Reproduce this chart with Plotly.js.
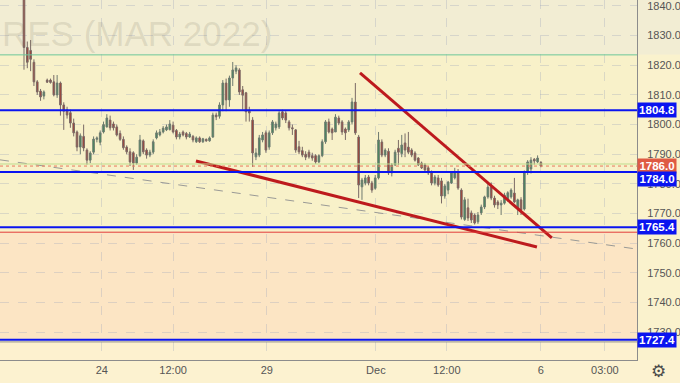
<!DOCTYPE html>
<html>
<head>
<meta charset="utf-8">
<script src="https://cdn.plot.ly/plotly-3.0.1.min.js"></script>
<style>
html,body{margin:0;padding:0;background:#fcf2d0;}
#chart{width:680px;height:383px;}
</style>
</head>
<body>
<div id="chart"></div>
<script>
// ---- data ----
const opens = [1852,1826,1825,1821,1814.4,1811.3,1809.6,1815,1815,1814.4,1810,1814,1806.6,1805,1804,1800.5,1797.5,1792.4,1796,1791.4,1788,1790.7,1795,1794,1797.5,1799.2,1801.5,1800.2,1799.2,1797,
1795,1792.4,1790.8,1790.5,1787,1789.5,1794.5,1791.4,1789.7,1790.7,1795.5,1796.5,1797.5,1798.2,1798.3,1799.8,1798,1795.8,1797.5,1797,
1795.8,1796,1794.2,1795.5,1794.2,1795,1794.5,1795.8,1803.2,1802.8,1806.6,1814,1808.3,1815.7,1818,1818.4,1811.7,1810.7,1804.9,1801.5,
1789.1,1789.7,1794.8,1797.2,1792.4,1797.2,1798.9,1799.2,1804.3,1803.9,1800.9,1798.9,1798.2,1792.5,1791.2,1790,1790.7,1789.5,1789.5,1787.4,
1789.5,1794.2,1800.9,1798.5,1797.5,1802.2,1800.9,1798.5,1798.2,1800.9,1807.6,1795.8,1779,1780.3,1782.3,1780.3,1778.5,1782,1794.1,1789.7,
1791,1783.7,1786.4,1792,1790.2,1793.8,1792.4,1791.4,1790.4,1788.7,1787,1786.4,1785.4,1783.7,1780.3,1782,1781,1775.9,1777.9,1780.3,
1782,1783.7,1777.9,1768,1771.9,1770.2,1769.5,1767.2,1770.2,1772.2,1775.6,1778.9,1775.2,1773.9,1772.9,1773.5,1774.6,1775.6,1776.9,1771.9,
1774.6,1771.5,1784,1785,1788.3,1787.4,1787.2];
const highs = [1854,1828,1828.5,1822,1815,1812,1811.5,1815.5,1815.5,1816.7,1816.7,1814.5,1807.5,1806,1805,1802,1798,1797,1800,1792,1791,1796,1796,1798,1801,1803.5,1803,1801,1800,1798,
1796,1793,1792,1791,1790,1796.5,1795,1792,1791.5,1795,1798,1798.5,1799.5,1800,1801.5,1801,1798.5,1797.5,1798,1797.5,
1797.5,1796.5,1796,1796,1795.5,1795.3,1796,1804,1804,1807.5,1815,1815.5,1816.5,1821.1,1820,1819,1813,1811,1806,1802.5,
1792,1796.5,1797.5,1798,1798,1801.5,1801,1804.5,1805,1804.5,1801.5,1800,1798.5,1794.5,1792.5,1791,1791.5,1790.5,1790,1790,
1795,1801.5,1802,1799,1803.5,1803,1801.5,1799,1801.5,1809,1814,1796.5,1782,1783,1783,1781,1783,1797.5,1795,1792,
1792,1787,1791.5,1794.8,1796.5,1797,1797.5,1792,1791,1789,1787.5,1787,1786,1784.5,1783,1783,1782,1780,1781,1784,
1785.4,1785,1778.5,1775.5,1775,1771,1770,1770.5,1773,1776,1780,1780.5,1776,1774.5,1774.5,1777,1777.5,1778.5,1782,1775,
1775.5,1784.5,1788,1789,1788.7,1789.6,1787.7];
const lows = [1818.5,1819,1818,1813,1810,1808,1808.5,1814,1813.8,1809.5,1809,1803,1798.2,1802,1798.9,1796,1791,1790,1791,1786.5,1787,1790,1794,1793,1797,1799,1798,1798,1796,1794.5,
1791.5,1790,1786,1784.7,1786.5,1789,1790,1788.5,1789,1790,1795,1796,1797,1797.8,1798,1797,1795,1795,1796,1795,
1795.5,1794,1793.8,1793.8,1793.8,1794.2,1794.2,1795.5,1801.5,1802,1804.5,1804.5,1806,1813,1817,1810,1805,1801,1801,1785.7,
1788,1789,1794,1790.5,1791.5,1796.5,1798,1798.5,1801.5,1800.5,1798,1796.5,1790.5,1790,1789,1788,1788.5,1787.8,1786.8,1787,
1789,1793.5,1797,1794.8,1798.5,1799.8,1796.5,1794.8,1797.5,1800,1796.5,1775.2,1774.6,1779.5,1779.5,1777,1778,1781.5,1789,1789,
1783,1782.5,1786,1786.4,1789,1789,1790,1789,1787.5,1786,1785,1784,1783,1779.5,1779.5,1779,1773.4,1775,1776.5,1780,
1781.5,1778,1768,1767.5,1767.5,1766.8,1766.3,1766.5,1769.5,1771.5,1775,1774.5,1772,1771.5,1769.5,1773,1774,1775,1773.5,1769.5,
1769.5,1771,1783,1783.5,1786.5,1787,1785.6];
const closes = [1826,1821,1822,1814.4,1811,1809.3,1811,1814.3,1814.2,1810,1814,1806.6,1804.5,1803.2,1800.5,1797.2,1792.4,1796.2,1792.1,1788,1790.4,1795.1,1795.5,1797.2,1800,1802.2,1798.9,1798.9,1796.5,1795,
1792.2,1790.8,1787.4,1787,1789,1794.8,1790.8,1789.7,1790.7,1794.2,1797.2,1797.5,1798.8,1799.2,1800.2,1797.5,1795.8,1796.8,1796.5,1795.8,
1796.8,1794.8,1795.5,1794.2,1795.2,1794.5,1795.5,1803.2,1802.6,1806.6,1814,1808.3,1815.7,1818.4,1819.1,1811,1809.9,1804.3,1803.9,1790.4,
1790.4,1795.5,1796.5,1791.4,1797.2,1800.9,1800.2,1803.9,1802.2,1801.5,1798.9,1798.6,1791.4,1790.8,1789.7,1789,1789.1,1788.7,1787.4,1789.5,
1794.2,1800.9,1797.5,1797.2,1802.5,1800.5,1797.5,1797.2,1800.9,1807.6,1797.2,1779.6,1781.3,1782,1780.3,1777.9,1782,1794.8,1789.7,1791.4,
1783.7,1786.4,1790.7,1790.7,1793.1,1791.4,1790.7,1789.7,1788,1786.4,1785.4,1784.7,1783.7,1780.3,1782.3,1779.6,1775.9,1779.3,1780.6,1783.7,
1784,1778.6,1768.8,1774.6,1768.5,1767.8,1766.8,1769.5,1772.2,1775.6,1778.9,1775.2,1772.9,1772.9,1773.5,1776.2,1777,1777.9,1773.9,1774.6,
1771.2,1784,1787.4,1788,1787.7,1788.7,1786.0];

// time-axis labels (bar index positions)
const tickPos = [23.5, 45.0, 73.3, 106.2, 127.6, 156.0, 175.3];
const tickLabels = ['24', '12:00', '29', 'Dec', '12:00', '6', '03:00'];

// horizontal price levels
const blueLevels = [1804.8, 1784.0, 1765.4, 1727.4];
const greenLevel = 1823.5;
const lastPrice = 1786.0;
const lightGreenLevel = 1786.7;
const redLevel = 1763.7;
const greyLevel = 1726.7;

// trend lines (bar index, price)
const lowerTrendX = [51.9, 154.8], lowerTrendY = [1787.7, 1758.7];
const upperTrendX = [101.4, 159.3], upperTrendY = [1817.4, 1761.8];
const dashTrendX = [-7.24, 185.0], dashTrendY = [1788.1, 1758.0];

const yTicks = [1730, 1740, 1750, 1760, 1770, 1780, 1790, 1800, 1810, 1820, 1830, 1840];
const yTickLabels = ['1730.0','1740.0','1750.0','1760.0','1770.0','1780.0','1790.0','1800.0','1810.0','1820.0','1830.0','1840.0'];

// ---- chart ----
const idx = closes.map((_, i) => i);
const yMin = 1720.6, yMax = 1842.0;
const yFrac = v => (v - yMin) / (yMax - yMin);

const traces = [
  {type:'scatter', mode:'lines', x:dashTrendX, y:dashTrendY, line:{color:'#9a9a96', width:1, dash:'dash'}, hoverinfo:'skip', showlegend:false},
  {type:'candlestick', x:idx, open:opens, high:highs, low:lows, close:closes,
   increasing:{fillcolor:'#3f8a5a', line:{color:'#6f7a70', width:1}},
   decreasing:{fillcolor:'#a83a2e', line:{color:'#7a6a66', width:1}},
   whiskerwidth:0, hoverinfo:'skip', showlegend:false},
  {type:'scatter', mode:'lines', x:lowerTrendX, y:lowerTrendY, line:{color:'#bd1a1d', width:3}, hoverinfo:'skip', showlegend:false},
  {type:'scatter', mode:'lines', x:upperTrendX, y:upperTrendY, line:{color:'#bd1a1d', width:3}, hoverinfo:'skip', showlegend:false}
];

function hline(y, color, width, dash) {
  return {type:'line', xref:'paper', x0:0, x1:1, yref:'y', y0:y, y1:y, line:{color:color, width:width, dash:dash||'solid'}, layer:'above'};
}
function band(y0, y1, color) {
  return {type:'rect', xref:'paper', x0:0, x1:1, yref:'y', y0:y0, y1:y1, fillcolor:color, line:{width:0}, layer:'below'};
}
function axisBand(y0, y1, color) {
  return {type:'rect', xref:'paper', x0:1, x1:680/637, yref:'paper', y0:yFrac(y0), y1:yFrac(y1), fillcolor:color, line:{width:0}, layer:'below'};
}

const shapes = [
  band(greenLevel, yMax, '#f2edd3'),
  band(blueLevels[2], greenLevel, '#f8f1c9'),
  band(redLevel, blueLevels[2], '#f8f1c9'),
  band(blueLevels[3], redLevel, '#fce5c4'),
  band(yMin, blueLevels[3], '#fdf1cf'),
  axisBand(greenLevel, yMax, '#f2edd3'),
  axisBand(yMin, greenLevel, '#faf2cd'),
  hline(greenLevel, '#6cc79a', 1),
  hline(lightGreenLevel, '#bfdc8f', 1),
  hline(lastPrice, '#e8785c', 1, 'dot'),
  hline(redLevel, '#e23b3b', 1),
  hline(greyLevel, '#8e8e8e', 1),
  hline(blueLevels[0], '#0a14f0', 2),
  hline(blueLevels[1], '#0a14f0', 2),
  hline(blueLevels[2], '#0a14f0', 2),
  hline(blueLevels[3], '#0a14f0', 2)
];

function tag(y, text, bg, shift) {
  return {xref:'paper', x:1, xanchor:'left', yref:'y', y:y, yanchor:'middle', yshift:shift||0, xshift:0,
    text:'<b>'+text+'</b>', showarrow:false, bgcolor:bg, borderpad:1, width:36, height:12, align:'center',
    font:{family:'Liberation Sans, Arial, sans-serif', size:11.5, color:'#ffffff'}};
}

const annotations = [
  {xref:'paper', x:0, xanchor:'left', yref:'paper', y:1-33/360, yanchor:'middle',
   text:'RES (MAR 2022)', showarrow:false,
   font:{family:'Liberation Sans, Arial, sans-serif', size:35, color:'rgba(120,112,90,0.17)'}},
  tag(blueLevels[0], '1804.8', '#0a14f0'),
  tag(lastPrice, '1786.0', '#df5a43'),
  tag(blueLevels[1], '1784.0', '#0a14f0', -7),
  tag(blueLevels[2], '1765.4', '#0a14f0'),
  tag(blueLevels[3], '1727.4', '#0a14f0'),
  {xref:'paper', x:1+21/637, xanchor:'center', yref:'paper', y:-11/360, yanchor:'middle',
   text:'⚙', showarrow:false, font:{family:'DejaVu Sans', size:17, color:'#4a4a4a'}}
];

const layout = {
  width:680, height:383,
  margin:{l:0, r:43, t:0, b:23, pad:0},
  paper_bgcolor:'#fcf2d0',
  plot_bgcolor:'#f8f1c9',
  showlegend:false,
  dragmode:false,
  xaxis:{range:[-7.24, 185.0], rangeslider:{visible:false}, tickmode:'array', tickvals:tickPos, ticktext:tickLabels,
    showgrid:true, gridcolor:'rgba(150,160,185,0.30)', griddash:'dash', gridwidth:1,
    showline:true, linecolor:'#8c8c8c', linewidth:1, zeroline:false,
    ticks:'', tickfont:{family:'Liberation Sans, Arial, sans-serif', size:11, color:'#555555'}, fixedrange:true},
  yaxis:{range:[yMin, yMax], side:'right', tickmode:'array', tickvals:yTicks, ticktext:yTickLabels,
    showgrid:true, gridcolor:'rgba(150,160,185,0.30)', griddash:'dash', gridwidth:1,
    showline:true, linecolor:'#8c8c8c', linewidth:1, zeroline:false,
    ticks:'outside', ticklen:7, tickcolor:'rgba(0,0,0,0)', ticklabeloverflow:'allow',
    tickfont:{family:'Liberation Sans, Arial, sans-serif', size:11, color:'#555555'}, fixedrange:true},
  shapes:shapes,
  annotations:annotations
};

Plotly.newPlot('chart', traces, layout, {staticPlot:true, displayModeBar:false});
</script>
</body>
</html>
